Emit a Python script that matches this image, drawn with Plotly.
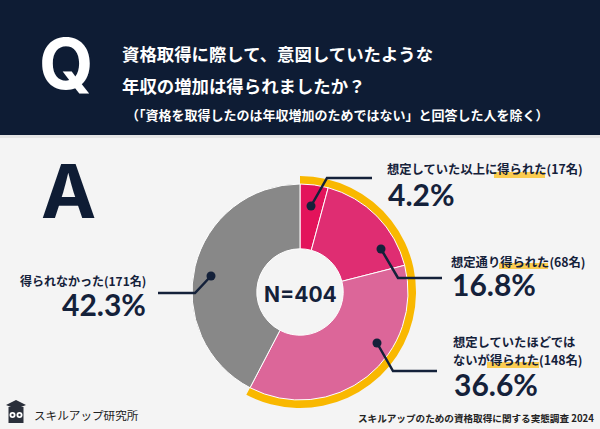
import plotly.graph_objects as go

# ---------------- data ----------------
categories = ["想定していた以上に得られた", "想定通り得られた",
              "想定していたほどではないが得られた", "得られなかった"]
counts = [17, 68, 148, 171]
percents = [4.2, 16.8, 36.6, 42.3]
slice_colors = ["#e3135b", "#df2d72", "#dc6699", "#888888"]
total_n = 404
gained_flags = [True, True, True, False]   # slices covered by the yellow arc

# ---------------- geometry helpers (pixel -> paper) ----------------
W, H = 600, 429
def X(x): return x / W
def Y(y): return 1 - y / H

NAVY = "#0e1c34"
TEXT = "#14213a"
YELLOW = "#f9b800"
BG = "#f4f4f4"
JP = "Noto Sans CJK JP"
NUM = "Lato"

cx, cy, r_out = 300, 292, 108
r_ring = 116

fig = go.Figure()

# yellow arc around the "gained" slices
gained = sum(p for p, g in zip(percents, gained_flags) if g)
not_gained = sum(p for p, g in zip(percents, gained_flags) if not g)
fig.add_trace(go.Pie(
    values=[gained, not_gained], sort=False, direction="clockwise", rotation=0,
    hole=104 / r_ring, textinfo="none", hoverinfo="skip", showlegend=False,
    marker=dict(colors=[YELLOW, "rgba(0,0,0,0)"], line=dict(width=0)),
    domain=dict(x=[X(cx - r_ring), X(cx + r_ring)], y=[Y(cy + r_ring), Y(cy - r_ring)]),
))

# main donut
fig.add_trace(go.Pie(
    labels=categories, values=percents, sort=False, direction="clockwise", rotation=0,
    hole=0.40, textinfo="none", showlegend=False,
    marker=dict(colors=slice_colors, line=dict(color="#ffffff", width=1)),
    domain=dict(x=[X(cx - r_out), X(cx + r_out)], y=[Y(cy + r_out), Y(cy - r_out)]),
))

shapes = []
# header band
shapes.append(dict(type="rect", xref="paper", yref="paper", x0=0, x1=1, y0=Y(135), y1=1,
                   fillcolor=NAVY, line=dict(width=0), layer="below"))
shapes.append(dict(type="rect", xref="paper", yref="paper", x0=0, x1=1, y0=Y(138), y1=Y(135),
                   fillcolor="#e4e4e4", line=dict(width=0), layer="below"))

# yellow highlights under 得られた
for (x0, x1, y0, y1) in [(494, 545, 172, 178), (499, 548, 263, 269), (487, 539, 362, 368)]:
    shapes.append(dict(type="rect", xref="paper", yref="paper", x0=X(x0), x1=X(x1),
                       y0=Y(y1), y1=Y(y0), fillcolor="#fcc431", opacity=0.85,
                       line=dict(width=0), layer="below"))

# leader lines
def path(points):
    s = "M " + " L ".join(f"{X(a)},{Y(b)}" for a, b in points)
    return dict(type="path", xref="paper", yref="paper", path=s,
                line=dict(color=TEXT, width=2.5), layer="above")

leaders = [
    [(311, 206), (327, 178), (372, 178)],
    [(381, 249), (398, 278), (442, 278)],
    [(377, 343), (393, 371), (437, 371)],
    [(211, 276), (195, 293), (158, 293)],
]
for pts in leaders:
    shapes.append(path(pts))
    dx, dy = pts[0]
    rr = 4.5
    shapes.append(dict(type="circle", xref="paper", yref="paper",
                       x0=X(dx - rr), x1=X(dx + rr), y0=Y(dy + rr), y1=Y(dy - rr),
                       fillcolor=TEXT, line=dict(width=0), layer="above"))

# logo: owl with mortarboard
ICON = "#2a2f3a"
shapes.append(dict(type="path", xref="paper", yref="paper",
                   path=f"M {X(6)},{Y(405)} L {X(16)},{Y(400)} L {X(26)},{Y(405)} L {X(16)},{Y(409)} Z",
                   fillcolor=ICON, line=dict(width=0), layer="above"))
shapes.append(dict(type="rect", xref="paper", yref="paper", x0=X(8.5), x1=X(23.5), y0=Y(423), y1=Y(407),
                   fillcolor=ICON, line=dict(width=0), layer="above"))
for ex in (12.5, 19.5):
    shapes.append(dict(type="circle", xref="paper", yref="paper",
                       x0=X(ex - 3), x1=X(ex + 3), y0=Y(418), y1=Y(412),
                       fillcolor="#ffffff", line=dict(width=0), layer="above"))
    shapes.append(dict(type="circle", xref="paper", yref="paper",
                       x0=X(ex - 1.2), x1=X(ex + 1.2), y0=Y(416.2), y1=Y(413.8),
                       fillcolor=ICON, line=dict(width=0), layer="above"))

ann = []
def text(x, y, s, size, color=TEXT, family=JP, xanchor="left", bold=True):
    ann.append(dict(x=X(x), y=Y(y), xref="paper", yref="paper", showarrow=False,
                    text=f"<b>{s}</b>" if bold else s, xanchor=xanchor, yanchor="middle",
                    font=dict(size=size, color=color, family=family)))

# header
text(66, 63, "Q", 70, color="#ffffff", family="Inter", xanchor="center")
text(120, 54, "資格取得に際して、意図していたような", 17.4, color="#ffffff")
text(120, 85, "年収の増加は得られましたか？", 17.4, color="#ffffff")
text(124, 114, "（「資格を取得したのは年収増加のためではない」と回答した人を除く）", 13, color="#ffffff")

# A
text(68, 191, "A", 74, color=NAVY, family="Inter", xanchor="center")

# center
text(cx, 294, f"N={total_n}", 21, family="Inter", xanchor="center")

# slice labels
text(385, 169, f"想定していた以上に得られた({counts[0]}名)", 12.3)
text(386, 194, f"{percents[0]}%", 30, family=NUM)
text(449, 262, f"想定通り得られた({counts[1]}名)", 12.3)
text(450, 284, f"{percents[1]}%", 30, family=NUM)
text(451, 342, "想定していたほどでは", 12.3)
text(451, 360, f"ないが得られた({counts[2]}名)", 12.3)
text(452, 384, f"{percents[2]}%", 30, family=NUM)
text(148, 280, f"得られなかった({counts[3]}名)", 12, xanchor="right")
text(148, 304, f"{percents[3]}%", 30, family=NUM, xanchor="right")

# footer
text(32, 415, "スキルアップ研究所", 11.6, color="#222222", bold=False)
text(596, 418, "スキルアップのための資格取得に関する実態調査 2024", 9.6, color="#222222",
     xanchor="right")

fig.update_layout(
    width=W, height=H, margin=dict(l=0, r=0, t=0, b=0),
    paper_bgcolor=BG, plot_bgcolor=BG,
    shapes=shapes, annotations=ann, showlegend=False,
)

fig.write_html("out.html", config={"displayModeBar": False},
               post_script="document.body.style.margin='0';document.body.style.overflow='hidden';")
